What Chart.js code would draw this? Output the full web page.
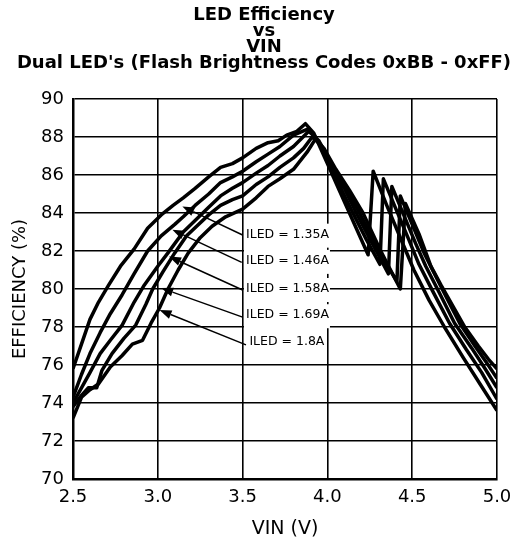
<!DOCTYPE html>
<html><head><meta charset="utf-8">
<script src="https://cdn.jsdelivr.net/npm/chart.js@4.4.1/dist/chart.umd.min.js"></script>
<style>html,body{margin:0;padding:0;background:#fff;}</style>
</head><body>
<canvas id="c" width="521" height="544"></canvas>
<script>
const FONT = "'DejaVu Sans', 'Liberation Sans', Arial, sans-serif";
const titleLines = ['LED Efficiency', 'vs', 'VIN', "Dual LED's (Flash Brightness Codes 0xBB - 0xFF)"];
const xTicks = [2.5, 3.0, 3.5, 4.0, 4.5, 5.0];
const yTicks = [70, 72, 74, 76, 78, 80, 82, 84, 86, 88, 90];

const vin135 = [2.50,2.55,2.60,2.65,2.71,2.78,2.86,2.94,3.02,3.09,3.15,3.22,3.30,3.37,3.44,3.50,3.58,3.65,3.71,3.76,3.82,3.87,3.92,4.00,4.07,4.13,4.24,4.27,4.35,4.43,4.51,4.60,4.69,4.80,4.90,5.00];
const eff135 = [75.8,77.1,78.4,79.3,80.2,81.2,82.1,83.2,83.9,84.4,84.8,85.3,85.9,86.4,86.6,86.9,87.4,87.7,87.8,88.1,88.3,88.7,88.2,86.6,85.2,84.0,81.8,86.2,84.4,82.7,81.0,79.4,78.0,76.4,75.0,73.6];

const vin146 = [2.50,2.55,2.60,2.66,2.72,2.79,2.86,2.94,3.02,3.10,3.15,3.22,3.30,3.37,3.44,3.50,3.58,3.65,3.72,3.80,3.88,3.93,4.00,4.08,4.15,4.23,4.31,4.33,4.40,4.48,4.54,4.62,4.72,4.82,4.91,5.00];
const eff146 = [74.3,75.5,76.6,77.7,78.7,79.7,80.8,82.0,82.8,83.4,83.8,84.4,85.0,85.6,85.9,86.2,86.7,87.1,87.5,88.1,88.4,88.0,86.8,85.3,84.0,82.6,81.3,85.8,84.3,82.6,81.3,79.9,78.2,76.8,75.6,74.2];

const vin158 = [2.50,2.55,2.60,2.66,2.72,2.79,2.86,2.92,3.00,3.06,3.15,3.22,3.30,3.37,3.44,3.50,3.58,3.65,3.72,3.80,3.89,3.95,4.02,4.10,4.17,4.27,4.36,4.38,4.45,4.52,4.58,4.66,4.75,4.85,4.93,5.00];
const eff158 = [74.0,74.8,75.6,76.6,77.3,78.1,79.3,80.2,81.2,81.9,83.0,83.6,84.3,84.9,85.3,85.6,86.1,86.5,87.0,87.5,88.3,87.8,86.6,85.3,84.0,82.3,80.8,85.4,83.9,82.4,81.2,79.8,78.2,76.9,75.8,74.8];

const vin169 = [2.50,2.55,2.59,2.64,2.67,2.73,2.80,2.87,2.93,2.97,3.03,3.10,3.17,3.24,3.30,3.37,3.44,3.50,3.58,3.65,3.72,3.80,3.86,3.91,3.96,4.03,4.11,4.19,4.30,4.41,4.43,4.50,4.57,4.62,4.70,4.78,4.87,4.94,5.00];
const eff169 = [73.8,74.4,74.8,74.8,75.7,76.6,77.4,78.1,79.2,80.0,80.9,81.9,82.8,83.4,83.9,84.4,84.7,84.9,85.5,85.9,86.4,86.9,87.4,88.0,87.6,86.5,85.3,84.0,82.0,80.4,84.9,83.4,81.9,81.0,79.6,78.2,77.0,76.1,75.3];

const vin180 = [2.50,2.55,2.60,2.65,2.72,2.79,2.85,2.91,2.96,3.01,3.06,3.12,3.18,3.25,3.32,3.40,3.50,3.58,3.65,3.72,3.80,3.88,3.93,3.98,4.05,4.13,4.21,4.32,4.43,4.46,4.54,4.61,4.67,4.74,4.81,4.89,4.95,5.00];
const eff180 = [73.2,74.3,74.7,75.0,75.9,76.5,77.1,77.3,78.2,79.0,80.0,81.0,81.9,82.7,83.3,83.8,84.2,84.8,85.4,85.8,86.3,87.2,87.9,87.4,86.3,85.2,84.0,81.9,80.0,84.5,82.9,81.2,80.2,79.1,78.0,77.0,76.3,75.8];

const seriesNames = ['ILED = 1.35A', 'ILED = 1.46A', 'ILED = 1.58A', 'ILED = 1.69A', 'ILED = 1.8A'];
const seriesVin = [vin135, vin146, vin158, vin169, vin180];
const seriesEff = [eff135, eff146, eff158, eff169, eff180];

// annotation labels with arrows
const annoTextX = [3.52, 3.52, 3.52, 3.52, 3.54];
const annoTextY = [82.86, 81.48, 80.0, 78.62, 77.2];
const annoTailX = [3.50, 3.495, 3.50, 3.50, 3.52];
const annoTailY = [82.84, 81.40, 79.95, 78.52, 77.06];
const annoTipX = [3.145, 3.086, 3.066, 3.020, 3.010];
const annoTipY = [84.34, 83.12, 81.71, 80.05, 78.89];

const titlePlugin = {
  id: 'multiTitle',
  afterDraw(chart) {
    const ctx = chart.ctx;
    ctx.save();
    ctx.fillStyle = '#000';
    ctx.font = 'bold 18px ' + FONT;
    ctx.textAlign = 'center';
    ctx.textBaseline = 'middle';
    titleLines.forEach((t, i) => ctx.fillText(t, 264, 15 + i * 16));
    ctx.restore();
  }
};

const annoPlugin = {
  id: 'anno',
  beforeDatasetsDraw(chart) {
    const {ctx, scales: {x, y}} = chart;
    ctx.save();
    ctx.font = '12.5px ' + FONT;
    ctx.textBaseline = 'middle';
    ctx.textAlign = 'left';
    seriesNames.forEach((t, i) => {
      const tx = x.getPixelForValue(annoTextX[i]);
      const ty = y.getPixelForValue(annoTextY[i]);
      const w = ctx.measureText(t).width;
      ctx.fillStyle = '#fff';
      ctx.fillRect(tx - 2, ty - 11, w + 3, 24);
    });
    ctx.strokeStyle = '#000';
    ctx.fillStyle = '#000';
    ctx.lineWidth = 1.5;
    seriesNames.forEach((t, i) => {
      const x0 = x.getPixelForValue(annoTailX[i]), y0 = y.getPixelForValue(annoTailY[i]);
      const x1 = x.getPixelForValue(annoTipX[i]), y1 = y.getPixelForValue(annoTipY[i]);
      const ang = Math.atan2(y1 - y0, x1 - x0);
      const L = 12, W = 4.5;
      const bx = x1 - L * Math.cos(ang), by = y1 - L * Math.sin(ang);
      ctx.beginPath();
      ctx.moveTo(x0, y0);
      ctx.lineTo(bx, by);
      ctx.stroke();
      ctx.beginPath();
      ctx.moveTo(x1, y1);
      ctx.lineTo(bx + W * Math.sin(ang), by - W * Math.cos(ang));
      ctx.lineTo(bx - W * Math.sin(ang), by + W * Math.cos(ang));
      ctx.closePath();
      ctx.fill();
    });
    seriesNames.forEach((t, i) => {
      const tx = x.getPixelForValue(annoTextX[i]);
      const ty = y.getPixelForValue(annoTextY[i]);
      ctx.fillText(t, tx, ty);
    });
    ctx.restore();
  }
};

new Chart(document.getElementById('c'), {
  type: 'scatter',
  data: {
    datasets: seriesNames.map((n, k) => ({
      label: n,
      data: seriesVin[k].map((v, i) => ({x: v, y: seriesEff[k][i]})),
      showLine: true,
      borderColor: '#000',
      backgroundColor: '#000',
      borderWidth: 3.5,
      pointRadius: 0,
      tension: 0,
      fill: false,
      borderJoinStyle: 'round'
    }))
  },
  options: {
    responsive: false,
    animation: false,
    devicePixelRatio: 1,
    layout: {padding: {left: 0, right: 24, top: 99, bottom: 0}},
    plugins: {
      legend: {display: false},
      tooltip: {enabled: false},
      title: {display: false}
    },
    scales: {
      x: {
        type: 'linear', min: 2.5, max: 5.0,
        afterBuildTicks: s => { s.ticks = xTicks.map(v => ({value: v})); },
        afterFit: s => { s.height = 65; },
        ticks: {callback: v => Number(v).toFixed(1), color: '#000', font: {family: FONT, size: 18}, padding: 8, maxRotation: 0, autoSkip: false},
        grid: {color: '#000', lineWidth: 1.6, drawTicks: false},
        border: {color: '#000', width: 2.5},
        title: {display: true, text: 'VIN (V)', color: '#000', font: {family: FONT, size: 19}, padding: {top: 0, bottom: 4}}
      },
      y: {
        type: 'linear', min: 70, max: 90,
        afterBuildTicks: s => { s.ticks = yTicks.map(v => ({value: v})); },
        afterFit: s => { s.width = 73; },
        ticks: {callback: v => String(v), color: '#000', font: {family: FONT, size: 18}, padding: 9, autoSkip: false},
        grid: {color: '#000', lineWidth: 1.6, drawTicks: false},
        border: {color: '#000', width: 2.5},
        title: {display: true, text: 'EFFICIENCY (%)', color: '#000', font: {family: FONT, size: 18}, padding: {top: 10, bottom: 0}}
      }
    }
  },
  plugins: [annoPlugin, titlePlugin]
});
</script>
</body></html>
